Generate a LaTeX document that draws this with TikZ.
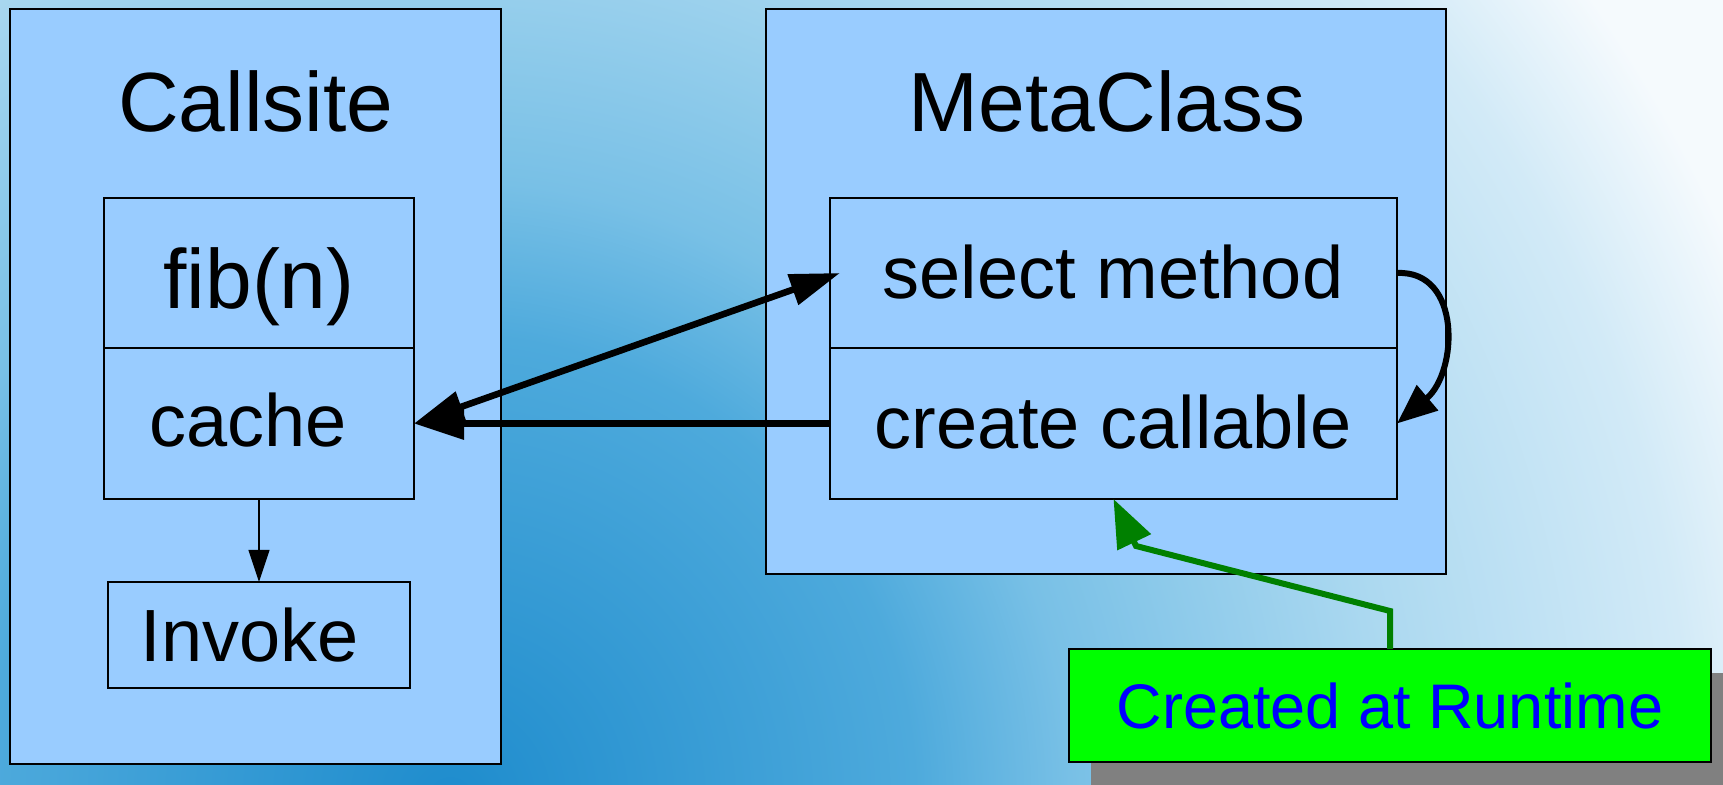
\documentclass[tikz,border=0pt]{standalone}
\usepackage{fontspec}
\setmainfont{Liberation Sans}
\usetikzlibrary{arrows.meta,fit,calc}
\pgfdeclareradialshading{bgshade}{\pgfpoint{0bp}{0bp}}{rgb(0bp)=(0.118,0.549,0.804); rgb(7.5bp)=(0.306,0.667,0.863); rgb(10bp)=(0.471,0.753,0.902); rgb(15bp)=(0.667,0.847,0.941); rgb(20bp)=(0.824,0.918,0.969); rgb(22.5bp)=(0.961,0.980,0.992); rgb(50bp)=(0.961,0.980,0.992)}
\definecolor{boxblue}{RGB}{153,204,255}
\definecolor{darkgreen}{RGB}{0,128,0}
\definecolor{notegreen}{RGB}{0,255,0}
\definecolor{shadowgray}{RGB}{128,128,128}
\definecolor{noteblue}{RGB}{0,0,255}
\begin{document}
\begin{tikzpicture}[x=0.5pt,y=-0.5pt,
  box/.style={draw=black, line width=0.6pt, fill=boxblue, inner sep=0pt, outer sep=0pt},
  notebox/.style={draw=black, line width=0.6pt, fill=notegreen, inner sep=0pt, outer sep=0pt},
  shadowbox/.style={fill=shadowgray, inner sep=0pt, outer sep=0pt},
  bigtxt/.style={font=\fontsize{42}{48}\selectfont, anchor=base, inner sep=0pt},
  midtxt/.style={font=\fontsize{37}{44}\selectfont, anchor=base, inner sep=0pt},
  notetxt/.style={font=\fontsize{31.5}{36}\selectfont, text=noteblue, anchor=base, inner sep=0pt},
  thickarrow/.style={line width=3.3pt, black},
  curvearrow/.style={line width=3pt, black, -{Triangle[length=20pt,width=16pt]}},
  thinarrow/.style={line width=0.6pt, black, -{Triangle[length=16pt,width=10.5pt]}},
  greenarrow/.style={line width=3pt, darkgreen, line join=miter, -{Triangle[length=24pt,width=18pt]}},
  bighead/.tip={Triangle[length=25pt,width=15.5pt]}
]
\useasboundingbox (0,0) rectangle (1723,785);
\clip (0,0) rectangle (1723,785);
% background
\shade[shading=bgshade] (450,800) circle [radius=775pt];

% note with shadow
\node[shadowbox, fit={(1091,673) (1745,800)}] (noteshadow) {};
\node[notebox, fit={(1069,649) (1711,762)}] (note) {};
\node[notetxt] (notelabel) at (1390,728) {Created at Runtime};

% Callsite
\node[box, fit={(10,9) (501,764)}] (cs) {};
\node[bigtxt] (cstitle) at (256,132) {Callsite};
\node[box, fit={(104,198) (414,348)}] (fib) {};
\node[box, fit={(104,348) (414,499)}] (cache) {};
\node[box, fit={(108,582) (410,688)}] (invoke) {};
\node[bigtxt] (fibtxt) at (259,309) {fib(n)};
\node[midtxt] (cachetxt) at (248,447) {cache};
\node[midtxt] (invoketxt) at (250,661) {Invoke};

% MetaClass
\node[box, fit={(766,9) (1446,574)}] (mc) {};
\node[bigtxt] (mctitle) at (1107,132) {MetaClass};
\node[box, fit={(830,198) (1397,348)}] (sel) {};
\node[box, fit={(830,348) (1397,499)}] (cre) {};
\node[midtxt] (seltxt) at (1113,299) {select method};
\node[midtxt] (cretxt) at (1113,449) {create callable};

% connectors
\draw[thinarrow] (cache.south) -- (invoke.north);
\draw[thickarrow, {bighead}-{bighead}] (cache.east) -- ([xshift=5pt]sel.west);
\draw[thickarrow, -{bighead}] (cre.west) -- (cache.east);
\draw[curvearrow] (sel.east) .. controls (1462,270) and (1458,372) .. (cre.east);
\draw[greenarrow] (note.north) -- ++(0,-38) -- (1136,546) -- (cre.south);
\end{tikzpicture}
\end{document}
